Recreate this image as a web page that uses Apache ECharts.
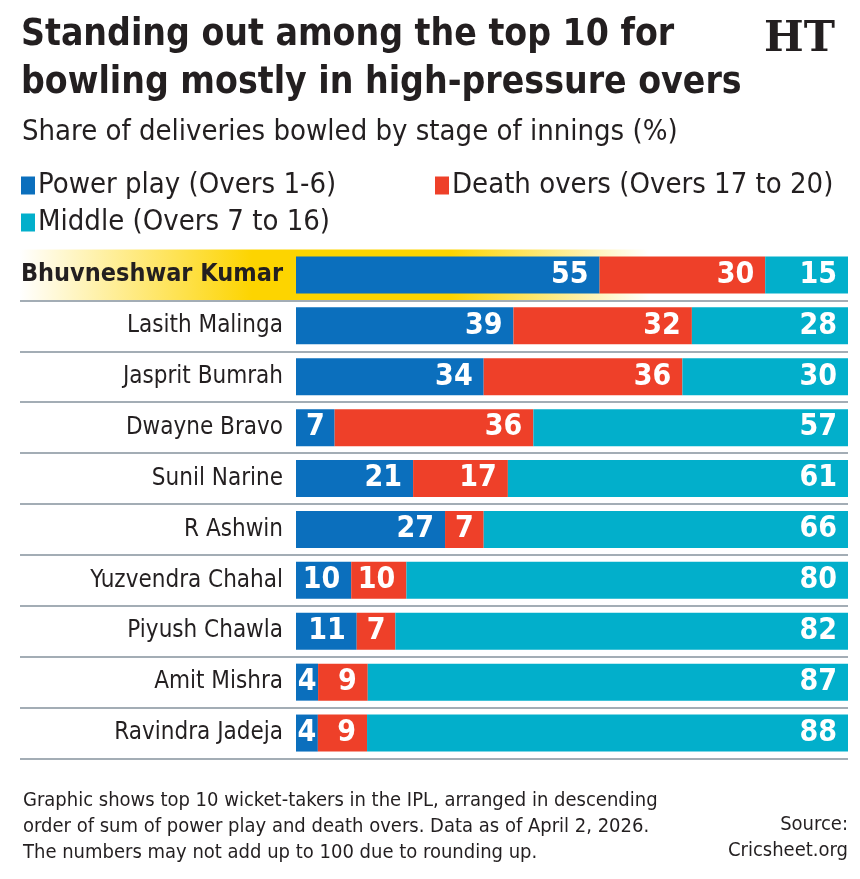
<!DOCTYPE html>
<html>
<head>
<meta charset="utf-8">
<script src="https://cdn.jsdelivr.net/npm/echarts@6/dist/echarts.min.js"></script>
<style>
  html, body { margin: 0; padding: 0; background: #fff; }
  #container { width: 860px; height: 879px; }
</style>
</head>
<body>
<div id="container"></div>
<script>
var dom = document.getElementById('container');
var myChart = echarts.init(dom);

// bowlers, top to bottom
var names = ['Bhuvneshwar Kumar', 'Lasith Malinga', 'Jasprit Bumrah', 'Dwayne Bravo', 'Sunil Narine',
  'R Ashwin', 'Yuzvendra Chahal', 'Piyush Chawla', 'Amit Mishra', 'Ravindra Jadeja'];
var powerPlay = [55, 39, 34, 7, 21, 27, 10, 11, 4, 4];
var deathOvers = [30, 32, 36, 36, 17, 7, 10, 7, 9, 9];
var middleOvers = [15, 28, 30, 57, 61, 66, 80, 82, 87, 88];

var seriesNames = ['Power play (Overs 1-6)', 'Death overs (Overs 17 to 20)', 'Middle (Overs 7 to 16)'];
var colors = ['#0b6fbd', '#ee4029', '#02afcb'];

var font = "'DejaVu Sans Condensed', 'Roboto', sans-serif";
var ink = '#231f20';

// bars are stretched to full width per row, labels keep the published numbers
function rowData(arr) {
  return arr.map(function (v, i) {
    var total = powerPlay[i] + deathOvers[i] + middleOvers[i];
    var item = { value: v * 100 / total, raw: v };
    if (v < 8) item.label = { position: 'inside' };
    return item;
  });
}

var hlColors = names.map(function (n, i) {
  if (i > 0) return 'rgba(0,0,0,0)';
  return new echarts.graphic.LinearGradient(0, 0, 1, 0, [
    { offset: 0, color: 'rgba(255,214,0,0)' },
    { offset: 0.28, color: '#fdd400' },
    { offset: 0.52, color: '#fdd400' },
    { offset: 0.76, color: 'rgba(255,214,0,0)' }
  ]);
});

function makeSeries(idx, arr) {
  return {
    name: seriesNames[idx],
    type: 'bar',
    stack: 'share',
    barWidth: 37,
    xAxisIndex: 0,
    yAxisIndex: 0,
    itemStyle: { color: colors[idx] },
    label: {
      show: true,
      position: 'insideRight',
      distance: 11,
      color: '#fff',
      fontFamily: font,
      fontWeight: 'bold',
      fontSize: 30,
      formatter: function (p) { return p.data.raw; }
    },
    data: rowData(arr)
  };
}

function legendAt(name, left, top) {
  return {
    data: [name],
    left: left,
    top: top,
    icon: 'rect',
    itemWidth: 14,
    itemHeight: 18,
    itemGap: 4,
    selectedMode: false,
    textStyle: { fontFamily: font, fontSize: 29, color: ink, padding: [0, 0, 0, -2] }
  };
}

function sourceLine(text, top) {
  return {
    type: 'text',
    right: 12, top: top,
    style: { text: text, font: '20px ' + font, fill: ink }
  };
}

var option = {
  animation: false,
  backgroundColor: '#fff',
  title: [
    {
      text: 'Standing out among the top 10 for\nbowling mostly in high-pressure overs',
      left: 16, top: 6,
      textStyle: { fontFamily: font, fontSize: 37, fontWeight: 'bold', color: ink, lineHeight: 48 }
    },
    {
      text: 'Share of deliveries bowled by stage of innings (%)',
      left: 17, top: 113,
      textStyle: { fontFamily: font, fontSize: 29, fontWeight: 'normal', color: ink }
    },
    {
      text: 'HT',
      right: 20, top: 14,
      textStyle: { fontFamily: "'DejaVu Serif', serif", fontSize: 42, fontWeight: 'bold', color: ink }
    },
    {
      text: 'Graphic shows top 10 wicket-takers in the IPL, arranged in descending\n' +
        'order of sum of power play and death overs. Data as of April 2, 2026.\n' +
        'The numbers may not add up to 100 due to rounding up.',
      left: 18, top: 783,
      textStyle: { fontFamily: font, fontSize: 20, fontWeight: 'normal', color: ink, lineHeight: 26 }
    }
  ],
  graphic: [
    sourceLine('Source:', 815),
    sourceLine('Cricsheet.org', 841)
  ],
  legend: [
    legendAt(seriesNames[0], 16, 166),
    legendAt(seriesNames[1], 430, 166),
    legendAt(seriesNames[2], 16, 203)
  ],
  grid: [
    { left: 296, right: 12, top: 249.5, bottom: 120.5, containLabel: false, outerBoundsMode: 'none' },
    { left: 20, right: 12, top: 249.5, bottom: 120.5, containLabel: false, outerBoundsMode: 'none' }
  ],
  xAxis: [
    { type: 'value', gridIndex: 0, min: 0, max: 100, show: false },
    { type: 'value', gridIndex: 1, min: 0, max: 100, show: false }
  ],
  yAxis: [
    {
      type: 'category', gridIndex: 0, inverse: true, data: names,
      axisLine: { show: false }, axisTick: { show: false }, splitLine: { show: false },
      axisLabel: {
        margin: 13,
        fontFamily: font, fontSize: 24, color: ink,
        formatter: function (v, i) { return i === 0 ? '{hl|' + v + '}' : v; },
        rich: { hl: { fontFamily: font, fontSize: 25, fontWeight: 'bold', color: ink } }
      }
    },
    {
      type: 'category', gridIndex: 1, inverse: true, data: names,
      axisLine: { show: false }, axisTick: { show: false }, axisLabel: { show: false },
      splitLine: { show: true, showMinLine: false, lineStyle: { color: '#a3adb5', width: 2 } },
      splitArea: { show: true, areaStyle: { color: hlColors } }
    }
  ],
  series: [
    makeSeries(0, powerPlay),
    makeSeries(1, deathOvers),
    makeSeries(2, middleOvers)
  ]
};

if (option && typeof option === 'object') {
  myChart.setOption(option);
}
</script>
</body>
</html>
